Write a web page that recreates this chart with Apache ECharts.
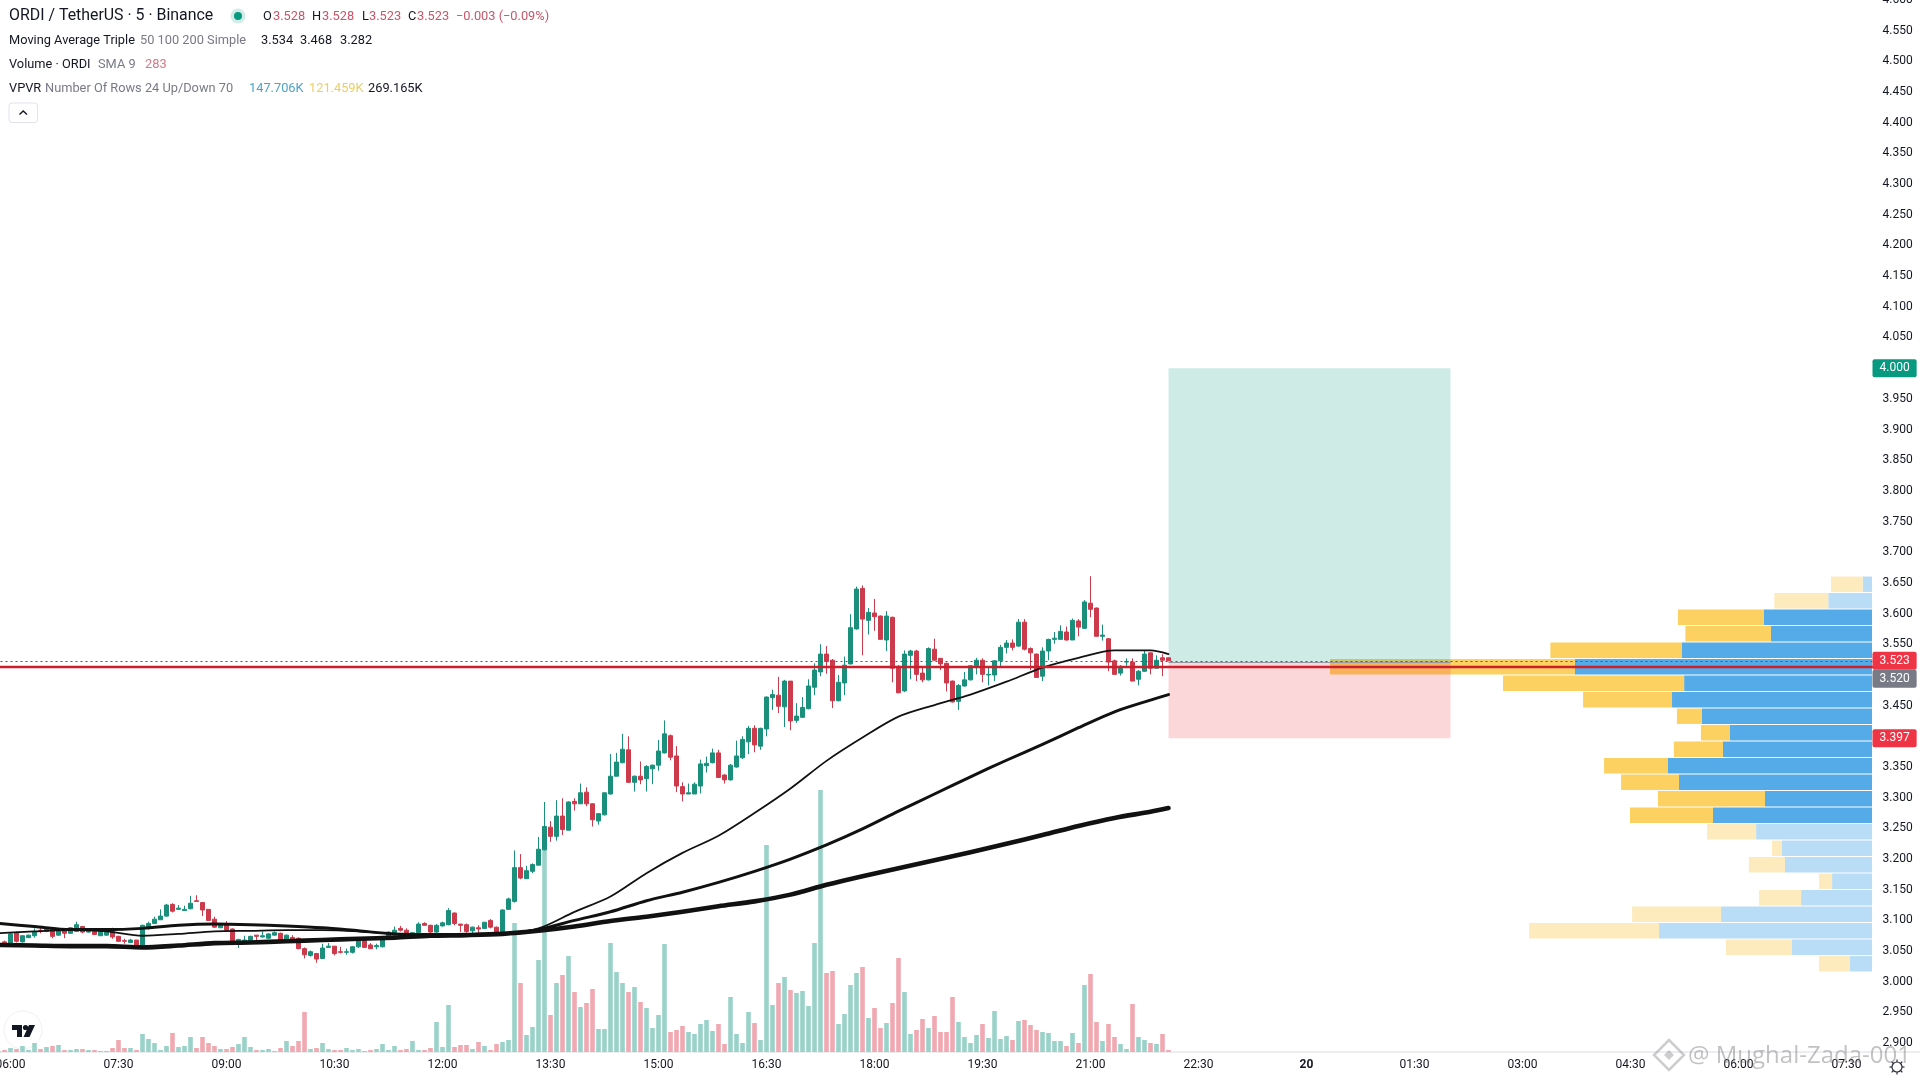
<!DOCTYPE html>
<html>
<head>
<meta charset="utf-8">
<title>ORDI / TetherUS</title>
<script src="https://cdn.jsdelivr.net/npm/echarts@6/dist/echarts.min.js"></script>
<style>html,body{margin:0;padding:0;background:#fff}#c{width:1920px;height:1080px}</style>
</head>
<body>
<div id="c"></div>
<script>
// candles: [open, close, low, high], one row per 5-minute bar
const candles = [
[3.060,3.062,3.058,3.064],[3.065,3.060,3.058,3.067],[3.061,3.078,3.060,3.080],[3.080,3.066,3.064,3.082],[3.065,3.075,3.064,3.076],
[3.072,3.076,3.071,3.077],[3.075,3.081,3.072,3.087],[3.084,3.083,3.079,3.088],[3.082,3.087,3.081,3.089],[3.086,3.074,3.071,3.087],
[3.076,3.084,3.075,3.086],[3.086,3.079,3.071,3.087],[3.079,3.088,3.078,3.089],[3.082,3.093,3.081,3.098],[3.090,3.081,3.079,3.091],
[3.081,3.083,3.080,3.084],[3.083,3.077,3.076,3.084],[3.075,3.082,3.075,3.087],[3.076,3.084,3.075,3.087],[3.086,3.073,3.070,3.088],
[3.074,3.066,3.065,3.075],[3.067,3.066,3.062,3.070],[3.064,3.068,3.063,3.070],[3.068,3.057,3.054,3.068],[3.057,3.092,3.056,3.093],
[3.088,3.095,3.085,3.098],[3.095,3.102,3.094,3.106],[3.101,3.107,3.101,3.118],[3.107,3.125,3.106,3.127],[3.126,3.115,3.113,3.128],
[3.118,3.120,3.117,3.125],[3.116,3.118,3.116,3.124],[3.119,3.128,3.118,3.140],[3.132,3.131,3.130,3.141],[3.129,3.117,3.107,3.130],
[3.118,3.100,3.099,3.118],[3.102,3.089,3.088,3.106],[3.088,3.095,3.088,3.095],[3.094,3.084,3.083,3.099],[3.086,3.065,3.063,3.087],
[3.062,3.069,3.055,3.070],[3.066,3.068,3.066,3.075],[3.066,3.074,3.065,3.075],[3.076,3.074,3.068,3.076],[3.073,3.075,3.072,3.082],
[3.071,3.078,3.070,3.079],[3.076,3.080,3.075,3.082],[3.079,3.066,3.066,3.080],[3.067,3.076,3.065,3.077],[3.072,3.070,3.069,3.076],
[3.071,3.054,3.053,3.072],[3.054,3.044,3.038,3.056],[3.043,3.049,3.041,3.051],[3.046,3.037,3.031,3.047],[3.038,3.055,3.037,3.062],
[3.056,3.058,3.055,3.063],[3.058,3.046,3.043,3.058],[3.049,3.048,3.046,3.057],[3.048,3.049,3.044,3.054],[3.048,3.057,3.046,3.058],
[3.057,3.069,3.055,3.070],[3.068,3.056,3.055,3.071],[3.060,3.054,3.053,3.063],[3.057,3.059,3.053,3.062],[3.057,3.071,3.056,3.072],
[3.070,3.081,3.069,3.082],[3.078,3.084,3.077,3.090],[3.087,3.084,3.082,3.091],[3.084,3.079,3.078,3.087],[3.078,3.080,3.077,3.081],
[3.080,3.094,3.079,3.097],[3.095,3.092,3.092,3.097],[3.092,3.081,3.078,3.093],[3.081,3.092,3.076,3.094],[3.091,3.096,3.090,3.098],
[3.093,3.116,3.092,3.120],[3.112,3.095,3.092,3.113],[3.094,3.092,3.081,3.094],[3.093,3.082,3.080,3.095],[3.083,3.089,3.079,3.090],
[3.088,3.086,3.079,3.092],[3.087,3.097,3.086,3.097],[3.100,3.089,3.087,3.102],[3.089,3.079,3.076,3.090],[3.080,3.117,3.079,3.118],
[3.118,3.135,3.117,3.137],[3.131,3.186,3.129,3.214],[3.186,3.169,3.167,3.208],[3.168,3.181,3.168,3.189],[3.180,3.191,3.177,3.193],
[3.190,3.216,3.190,3.236],[3.215,3.253,3.214,3.293],[3.252,3.237,3.228,3.262],[3.237,3.270,3.230,3.296],[3.270,3.248,3.239,3.299],
[3.247,3.293,3.247,3.294],[3.294,3.290,3.279,3.299],[3.290,3.308,3.290,3.323],[3.309,3.290,3.286,3.317],[3.290,3.264,3.253,3.291],
[3.262,3.274,3.256,3.275],[3.272,3.308,3.271,3.308],[3.306,3.335,3.305,3.371],[3.335,3.358,3.335,3.373],[3.357,3.379,3.356,3.404],
[3.378,3.325,3.324,3.400],[3.325,3.335,3.310,3.336],[3.335,3.329,3.322,3.359],[3.331,3.351,3.310,3.353],[3.347,3.353,3.322,3.354],
[3.353,3.376,3.344,3.394],[3.373,3.404,3.372,3.426],[3.401,3.366,3.361,3.403],[3.368,3.319,3.309,3.384],[3.318,3.306,3.294,3.325],
[3.306,3.308,3.306,3.323],[3.306,3.322,3.306,3.325],[3.319,3.355,3.307,3.362],[3.352,3.356,3.341,3.367],[3.357,3.373,3.356,3.380],
[3.373,3.333,3.332,3.378],[3.337,3.329,3.323,3.338],[3.329,3.353,3.328,3.355],[3.350,3.368,3.349,3.393],[3.365,3.395,3.363,3.400],
[3.391,3.413,3.371,3.417],[3.413,3.386,3.374,3.418],[3.384,3.413,3.378,3.414],[3.412,3.464,3.400,3.465],[3.463,3.468,3.443,3.476],
[3.467,3.449,3.438,3.497],[3.448,3.490,3.415,3.492],[3.490,3.425,3.410,3.490],[3.426,3.433,3.422,3.454],[3.431,3.447,3.430,3.464],
[3.445,3.482,3.444,3.493],[3.480,3.508,3.467,3.519],[3.505,3.534,3.498,3.550],[3.534,3.522,3.502,3.547],[3.524,3.458,3.446,3.526],
[3.458,3.488,3.457,3.500],[3.487,3.516,3.467,3.530],[3.518,3.577,3.517,3.599],[3.575,3.640,3.574,3.644],[3.641,3.591,3.532,3.646],
[3.589,3.602,3.566,3.609],[3.601,3.595,3.572,3.624],[3.596,3.558,3.558,3.597],[3.557,3.596,3.539,3.604],[3.594,3.511,3.488,3.595],
[3.514,3.471,3.470,3.516],[3.474,3.534,3.472,3.540],[3.532,3.539,3.493,3.541],[3.539,3.501,3.490,3.541],[3.503,3.492,3.488,3.514],
[3.492,3.543,3.491,3.545],[3.542,3.524,3.523,3.559],[3.527,3.518,3.508,3.528],[3.519,3.487,3.473,3.520],[3.490,3.456,3.455,3.491],
[3.457,3.483,3.443,3.485],[3.482,3.492,3.481,3.505],[3.492,3.515,3.491,3.516],[3.515,3.524,3.501,3.528],[3.524,3.501,3.488,3.527],
[3.500,3.501,3.483,3.514],[3.500,3.523,3.490,3.524],[3.523,3.545,3.514,3.549],[3.545,3.552,3.535,3.557],[3.552,3.545,3.540,3.558],
[3.547,3.586,3.546,3.591],[3.586,3.542,3.540,3.591],[3.543,3.536,3.508,3.545],[3.534,3.496,3.496,3.535],[3.498,3.539,3.490,3.545],
[3.539,3.558,3.524,3.559],[3.558,3.560,3.551,3.570],[3.558,3.571,3.558,3.581],[3.570,3.557,3.556,3.579],[3.557,3.589,3.557,3.592],
[3.588,3.578,3.563,3.591],[3.576,3.619,3.575,3.622],[3.617,3.607,3.594,3.661],[3.609,3.563,3.563,3.610],[3.563,3.565,3.556,3.582],
[3.559,3.521,3.506,3.560],[3.523,3.501,3.500,3.525],[3.503,3.514,3.499,3.516],[3.521,3.522,3.515,3.527],[3.521,3.490,3.490,3.527],
[3.493,3.506,3.483,3.508],[3.506,3.534,3.505,3.540],[3.536,3.511,3.501,3.536],[3.511,3.524,3.511,3.532],[3.528,3.524,3.498,3.534],
[3.528,3.523,3.523,3.528]
];
// volume per bar, thousands of ORDI
const volumes = [
.14,.28,.56,.42,.84,.28,1.26,.42,.7,.84,.98,.28,.28,.42,.42,.28,.28,.14,.14,.56,
1.68,.56,.56,.28,2.52,1.82,1.26,.28,.84,2.66,.7,.84,2.1,.56,2.1,1.26,.84,.42,.42,.7,
1.12,2.1,.7,.28,.28,.42,.14,.56,1.54,.84,1.54,5.6,.42,.56,1.26,.42,.28,.28,.56,.28,
.42,.14,.28,.42,1.12,.28,.84,.28,.42,1.54,.28,.28,.56,4.2,.7,6.58,.7,.98,.98,.42,
1.4,.84,.28,1.12,1.4,1.68,18.06,9.66,2.38,3.5,12.88,28.28,5.18,9.66,10.78,13.44,8.4,6.3,6.86,8.82,
3.22,3.22,15.26,11.2,9.66,8.4,9.1,7,6.16,3.36,5.18,15.12,2.8,3.08,3.64,2.8,2.52,3.92,4.48,2.94,
3.92,1.12,7.7,2.52,1.26,5.6,4.06,1.68,28.98,6.58,9.66,10.5,8.68,8.26,8.54,6.44,15.26,36.68,11.06,11.34,
3.92,5.32,9.38,11.06,11.9,4.76,6.16,3.36,4.06,6.86,13.16,8.4,2.52,3.08,4.62,3.36,5.04,2.8,2.8,7.7,
4.2,2.1,1.26,2.38,3.92,1.96,5.74,1.82,2.24,1.68,4.34,4.48,3.78,3.08,2.8,2.66,1.54,1.54,.84,2.66,
1.26,9.38,10.92,4.2,1.54,3.92,2.1,1.12,.42,6.72,2.1,1.68,1.26,1.12,2.52,.28
];
// moving averages at these bars
const maBars = [0,6,12,18,24,30,36,42,48,54,60,66,72,78,84,90,96,102,108,114,120,126,132,138,144,150,156,162,168,174,180,186,192,195];
const ma50 = [3.079,3.082,3.084,3.082,3.075,3.078,3.082,3.083,3.084,3.084,3.082,3.078,3.076,3.076,3.078,3.087,3.114,3.139,3.177,3.210,3.238,3.275,3.315,3.360,3.398,3.432,3.451,3.468,3.489,3.512,3.528,3.540,3.540,3.534];
const ma100 = [3.095,3.090,3.085,3.085,3.087,3.092,3.094,3.093,3.091,3.088,3.083,3.078,3.077,3.077,3.078,3.085,3.100,3.114,3.132,3.146,3.162,3.180,3.200,3.223,3.249,3.278,3.306,3.334,3.361,3.387,3.414,3.440,3.459,3.468];
const ma200 = [3.060,3.059,3.058,3.058,3.056,3.059,3.063,3.064,3.066,3.068,3.070,3.072,3.075,3.076,3.078,3.083,3.090,3.099,3.106,3.114,3.123,3.131,3.142,3.158,3.172,3.185,3.198,3.211,3.225,3.239,3.254,3.267,3.277,3.283];
// volume profile rows, top to bottom, thousands
const vpvrRows = ['3.648','3.621','3.594','3.567','3.540','3.513','3.486','3.460','3.433','3.406','3.379','3.352','3.325','3.298','3.271','3.244','3.217','3.190','3.164','3.137','3.110','3.083','3.056','3.029'];
const vpvrUp = [.44,2.06,5.09,4.76,8.95,13.99,8.85,9.42,8.01,6.69,7.02,9.61,9.09,5.04,7.49,5.46,4.24,4.10,1.88,3.34,7.11,10.03,3.77,1.04];
const vpvrDown = [1.49,2.54,4.05,4.03,6.20,11.54,8.53,4.19,1.18,1.37,2.31,3.01,2.73,5.04,3.91,2.31,.47,1.70,.61,1.98,4.19,6.12,3.11,1.46];
const vpvrStrong = [2,3,4,5,6,7,8,9,10,11,12,13,14];
// axis tick labels, one per 18 bars from bar 2
const timeTicks = ['06:00','07:30','09:00','10:30','12:00','13:30','15:00','16:30','18:00','19:30','21:00','22:30','20','01:30','03:00','04:30','06:00','07:30'];
const barCount = 313;
const hiddenPriceLabels = ['2.850','3.400','3.500','4.000'];
// position tool and price lines
const targetPrice = 4.000, entryPrice = 3.520, stopPrice = 3.397, lastPrice = 3.523, drawnLine = 3.513;
const boxStart = 195, boxEnd = 242;

const FONT = 'Roboto';
const GREEN = '#1A8F7B', RED = '#CC3A4B';
const categories = [];
for (let i = 0; i < barCount; i++) {
  categories.push((i - 2) % 18 === 0 && i >= 2 ? timeTicks[(i - 2) / 18] : '');
}
const plotX = { left: -4.5, width: 1878 };

function tag(value, text, color, dy) {
  return {
    yAxis: value,
    lineStyle: { color: 'rgba(0,0,0,0)', width: 1 },
    label: {
      show: true, position: 'end', formatter: text, distance: -1, offset: [0, dy || 0],
      backgroundColor: color, color: '#fff', fontFamily: FONT, fontSize: 12,
      padding: [3, 7, 3, 7], borderRadius: 2, lineHeight: 12
    }
  };
}

function txt(x, y, text, fill, size, weight) {
  return { type: 'text', silent: true, x: x, y: y,
    style: { text: text, fill: fill, font: (weight || 'normal') + ' ' + (size || 12.8) + 'px ' + FONT, textVerticalAlign: 'middle', verticalAlign: 'middle' } };
}
const TXT = '#131722', GREY = '#787B86', LRED = '#C9566A';
const graphics = [
  txt(9, 16.5, 'ORDI / TetherUS · 5 · Binance', TXT, 15.9),
  { type: 'circle', silent: true, shape: { cx: 238, cy: 16, r: 7.5 }, style: { fill: 'rgba(8,153,129,.18)' } },
  { type: 'circle', silent: true, shape: { cx: 238, cy: 16, r: 4 }, style: { fill: '#089981' } },
  txt(263, 16.5, 'O', TXT), txt(273, 16.5, '3.528', LRED),
  txt(312, 16.5, 'H', TXT), txt(322, 16.5, '3.528', LRED),
  txt(362, 16.5, 'L', TXT), txt(369, 16.5, '3.523', LRED),
  txt(408, 16.5, 'C', TXT), txt(417, 16.5, '3.523', LRED),
  txt(456, 16.5, '−0.003 (−0.09%)', LRED),
  txt(9, 41, 'Moving Average Triple', TXT), txt(140, 41, '50 100 200 Simple', GREY),
  txt(261, 41, '3.534', TXT), txt(300, 41, '3.468', TXT), txt(340, 41, '3.282', TXT),
  txt(9, 65, 'Volume · ORDI', TXT), txt(98, 65, 'SMA 9', GREY), txt(145, 65, '283', '#D57A88'),
  txt(9, 89, 'VPVR', TXT), txt(45, 89, 'Number Of Rows 24 Up/Down 70', GREY),
  txt(249, 89, '147.706K', '#4FA3C7'), txt(309, 89, '121.459K', '#EBCF63'), txt(368, 89, '269.165K', TXT),
  { type: 'rect', silent: true, shape: { x: 9, y: 103, width: 28.5, height: 19.5, r: 3 }, style: { fill: '#fff', stroke: '#E0E3EB', lineWidth: 1 } },
  { type: 'polyline', silent: true, shape: { points: [[19.5, 114.5], [23.2, 111], [27, 114.5]] }, style: { fill: null, stroke: '#131722', lineWidth: 1.4 } },
  // logo
  { type: 'circle', silent: true, shape: { cx: 23, cy: 1030, r: 19 }, style: { fill: '#fff', stroke: '#EEF0F3', lineWidth: 1 } },
  { type: 'polygon', silent: true, shape: { points: [[12, 1025], [22, 1025], [22, 1037], [17, 1037], [17, 1030], [12, 1030]] }, style: { fill: '#131722' } },
  { type: 'circle', silent: true, shape: { cx: 25.5, cy: 1027.5, r: 2.6 }, style: { fill: '#131722' } },
  { type: 'polygon', silent: true, shape: { points: [[29, 1025], [35, 1025], [29.5, 1037], [23.5, 1037]] }, style: { fill: '#131722' } },
  // axis baseline across the whole width
  { type: 'line', silent: true, shape: { x1: 0, y1: 1052, x2: 1920, y2: 1052 }, style: { stroke: '#D9DCE3', lineWidth: 1 } },
  // settings icon
  { type: 'circle', silent: true, shape: { cx: 1897, cy: 1067, r: 5 }, style: { fill: '#fff', stroke: '#2A2E39', lineWidth: 1.2 } }
];
for (let a = 0; a < 8; a++) {
  const t = a * Math.PI / 4;
  graphics.push({ type: 'line', silent: true, shape: { x1: 1897 + 5 * Math.cos(t), y1: 1067 + 5 * Math.sin(t), x2: 1897 + 7.5 * Math.cos(t), y2: 1067 + 7.5 * Math.sin(t) }, style: { stroke: '#2A2E39', lineWidth: 1.2 } });
}
// watermark
graphics.push(
  { type: 'polygon', silent: true, z: 50, shape: { points: [[1669, 1040], [1684, 1055], [1669, 1070], [1654, 1055]] }, style: { fill: 'none', stroke: 'rgba(130,130,130,.4)', lineWidth: 2.5 } },
  { type: 'polygon', silent: true, z: 50, shape: { points: [[1669, 1050], [1674, 1055], [1669, 1060], [1664, 1055]] }, style: { fill: 'rgba(130,130,130,.4)' } },
  { type: 'text', silent: true, z: 50, x: 1688, y: 1056, style: { text: '@ Mughal-Zada-001', fill: 'rgba(110,110,110,.42)', font: '24px "Open Sans"', verticalAlign: 'middle', textVerticalAlign: 'middle' } }
);

const maLine = (name, vals, width) => ({
  name: name, type: 'line', xAxisIndex: 0, yAxisIndex: 0, z: 5, symbol: 'none', silent: true, smooth: 0.3,
  data: maBars.map((b, k) => [b, vals[k]]),
  lineStyle: { color: '#111', width: width, cap: 'round', join: 'round' }
});
const isStrong = i => vpvrStrong.indexOf(i) >= 0;

const option = {
  animation: false,
  backgroundColor: '#fff',
  textStyle: { fontFamily: FONT },
  grid: [
    { left: plotX.left, width: plotX.width, top: 0, height: 1073.8, outerBoundsMode: 'none' },
    { left: plotX.left, width: plotX.width, top: 0, height: 1052, outerBoundsMode: 'none' },
    { left: 0, width: 1872, top: 576, height: 396, outerBoundsMode: 'none' }
  ],
  xAxis: [
    { type: 'category', gridIndex: 0, data: categories, show: false },
    { type: 'category', gridIndex: 1, data: categories, axisLine: { show: false }, axisTick: { show: false },
      splitLine: { show: false },
      axisLabel: { interval: (i, v) => v !== '', color: '#131722', fontFamily: FONT, fontSize: 12, margin: 7,
        formatter: v => v === '20' ? '{b|20}' : v,
        rich: { b: { fontWeight: 'bold', fontSize: 12, color: '#131722', fontFamily: FONT } } } },
    { type: 'value', gridIndex: 2, inverse: true, min: 0, max: 88.18, show: false }
  ],
  yAxis: [
    { type: 'value', gridIndex: 0, position: 'right', min: 2.85, max: 4.6, interval: 0.05, scale: true,
      axisLine: { show: false }, axisTick: { show: false }, splitLine: { show: false },
      axisLabel: { margin: 9, color: '#131722', fontFamily: FONT, fontSize: 12, showMinLabel: true, showMaxLabel: true, padding: [3, 0, 0, 0],
        formatter: v => { const s = v.toFixed(3); return hiddenPriceLabels.indexOf(s) >= 0 ? '' : s; } } },
    { type: 'value', gridIndex: 1, min: 0, max: 147.28, show: false },
    { type: 'category', gridIndex: 2, data: vpvrRows, inverse: true, show: false }
  ],
  graphic: { elements: graphics },
  series: [
    { name: 'VPVR Up', type: 'bar', xAxisIndex: 2, yAxisIndex: 2, stack: 'vp', z: 1, barWidth: 15.4, silent: true,
      data: vpvrUp.map((v, i) => ({ value: v, itemStyle: { color: isStrong(i) ? '#55ABE8' : '#B9DDF6' } })) },
    { name: 'VPVR Down', type: 'bar', xAxisIndex: 2, yAxisIndex: 2, stack: 'vp', z: 1, barWidth: 15.4, silent: true,
      data: vpvrDown.map((v, i) => ({ value: v, itemStyle: { color: isStrong(i) ? '#FCD162' : '#FDEBBE' } })) },
    { name: 'Position', type: 'line', xAxisIndex: 0, yAxisIndex: 0, z: 2, symbol: 'none', silent: true, data: [],
      markArea: { silent: true, z: 2, data: [
        [{ coord: [boxStart, targetPrice], itemStyle: { color: 'rgba(8,153,129,0.2)' } }, { coord: [boxEnd, entryPrice] }],
        [{ coord: [boxStart, entryPrice], itemStyle: { color: 'rgba(242,54,69,0.2)' } }, { coord: [boxEnd, stopPrice] }]
      ] } },
    { name: 'Volume', type: 'bar', xAxisIndex: 1, yAxisIndex: 1, z: 3, barWidth: 4.6, silent: true,
      data: volumes.map((v, i) => ({ value: v, itemStyle: { color: candles[i][1] >= candles[i][0] ? '#9AD2C9' : '#F1A9B1' } })) },
    { name: 'ORDI', type: 'candlestick', xAxisIndex: 0, yAxisIndex: 0, z: 4, barWidth: 4, silent: true,
      data: candles,
      itemStyle: { color: GREEN, color0: RED, borderColor: GREEN, borderColor0: RED, borderWidth: 1 } },
    maLine('MA 50', ma50, 1.8),
    maLine('MA 100', ma100, 3),
    maLine('MA 200', ma200, 4.6),
    { name: 'Lines', type: 'line', xAxisIndex: 0, yAxisIndex: 0, z: 6, symbol: 'none', silent: true, data: [],
      markLine: { silent: true, symbol: 'none', z: 6, animation: false, precision: 3, label: { show: false }, data: [
        { yAxis: drawnLine, lineStyle: { color: '#CC1F2C', width: 2.4, type: 'solid' }, label: { show: false } },
        { yAxis: lastPrice, lineStyle: { color: '#A8303F', width: 1, type: [2, 3] }, label: { show: false } },
        [{ coord: [boxStart, entryPrice], lineStyle: { color: '#9598A1', width: 1, type: 'solid' }, label: { show: false } }, { coord: [boxEnd, entryPrice] }]
      ] } },
    { name: 'Tags', type: 'line', xAxisIndex: 0, yAxisIndex: 0, z: 7, symbol: 'none', silent: true, data: [],
      markLine: { silent: true, symbol: 'none', z: 7, animation: false, precision: 3, data: [
        tag(targetPrice, '4.000', '#089981'),
        tag(lastPrice, '3.523', '#EF3446'),
        tag(entryPrice, '3.520', '#787B86', 16),
        tag(stopPrice, '3.397', '#EF3446')
      ] } }
  ]
};
const chart = echarts.init(document.getElementById('c'), null, { renderer: 'canvas' });
chart.setOption(option);
</script>
</body>
</html>
